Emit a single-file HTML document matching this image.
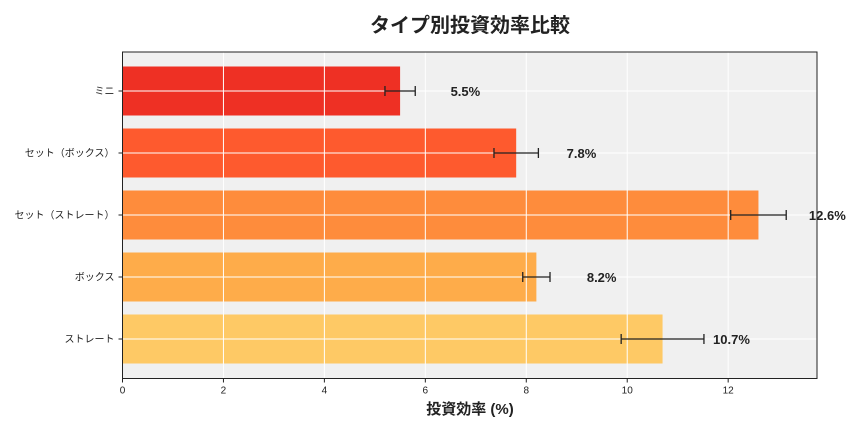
<!DOCTYPE html>
<html><head><meta charset="utf-8"><style>
body{margin:0;background:#fff;}
svg{font-family:"Liberation Sans","Noto Sans CJK JP",sans-serif;}
</style></head><body>
<svg id="c" width="864" height="432" xmlns="http://www.w3.org/2000/svg">
<text x="470" y="32" text-anchor="middle" font-size="20" font-weight="bold" fill="#222">タイプ別投資効率比較</text>
<text x="470" y="414" text-anchor="middle" font-size="15" font-weight="bold" fill="#222">投資効率 (%)</text>
</svg>
<script>
const categories=["ミニ","セット（ボックス）","セット（ストレート）","ボックス","ストレート"];
const values=[5.5,7.8,12.6,8.2,10.7];
const errors=[0.3,0.44,0.55,0.27,0.82];
const valueLabels=["5.5%","7.8%","12.6%","8.2%","10.7%"];
const colors=["#ee3024","#fe5a2e","#fe8c3c","#feac4a","#fec965"];
const xTicks=[0,2,4,6,8,10,12];
const NS="http://www.w3.org/2000/svg";
const svg=document.getElementById('c');
const L=122.5,R=817,T=52,B=378.5,XMAX=13.76;
const x=v=>L+v/XMAX*(R-L);
const y=i=>91+i*62;
function mk(t,a,p){const e=document.createElementNS(NS,t);for(const k in a)e.setAttribute(k,a[k]);(p||svg).appendChild(e);return e;}
const bg=mk('rect',{x:L,y:T,width:R-L,height:B-T,fill:'#f0f0f0'});


categories.forEach((c,i)=>{
 const b=mk('rect',{x:L,y:y(i)-24.5,width:x(values[i])-L,height:49,fill:colors[i]});
 
 
});
xTicks.forEach(t=>{
 const g=mk('line',{x1:x(t),x2:x(t),y1:T,y2:B,stroke:'#fff','stroke-width':1});
 
 
 const tk=mk('line',{x1:x(t),x2:x(t),y1:B,y2:B+4,stroke:'#222'});
 
 
 const tl=mk('text',{x:x(t),y:B+15,'text-anchor':'middle','font-size':10,fill:'#222'});
 tl.textContent=t;
 
 
});
categories.forEach((c,i)=>{
 const g=mk('line',{x1:L,x2:R,y1:y(i),y2:y(i),stroke:'#fff','stroke-width':1});
 
 
 const tk=mk('line',{x1:L-4,x2:L,y1:y(i),y2:y(i),stroke:'#222'});
 
 
 const tl=mk('text',{x:L-8,y:y(i)+3.5,'text-anchor':'end','font-size':10,fill:'#222'});
 tl.textContent=c;
 
 
 const e=mk('path',{d:`M${x(values[i]-errors[i])},${y(i)}H${x(values[i]+errors[i])}M${x(values[i]-errors[i])},${y(i)-5}v10M${x(values[i]+errors[i])},${y(i)-5}v10`,stroke:'#222','stroke-width':1.3,fill:'none'});
 
 
 const vl=mk('text',{x:x(values[i]+1),y:y(i)+5,'font-size':13,'font-weight':'bold',fill:'#222'});
 vl.textContent=valueLabels[i];
 
 
});
const fr=mk('rect',{x:L,y:T,width:R-L,height:B-T,fill:'none',stroke:'#222','stroke-width':1});


</script>
</body></html>
